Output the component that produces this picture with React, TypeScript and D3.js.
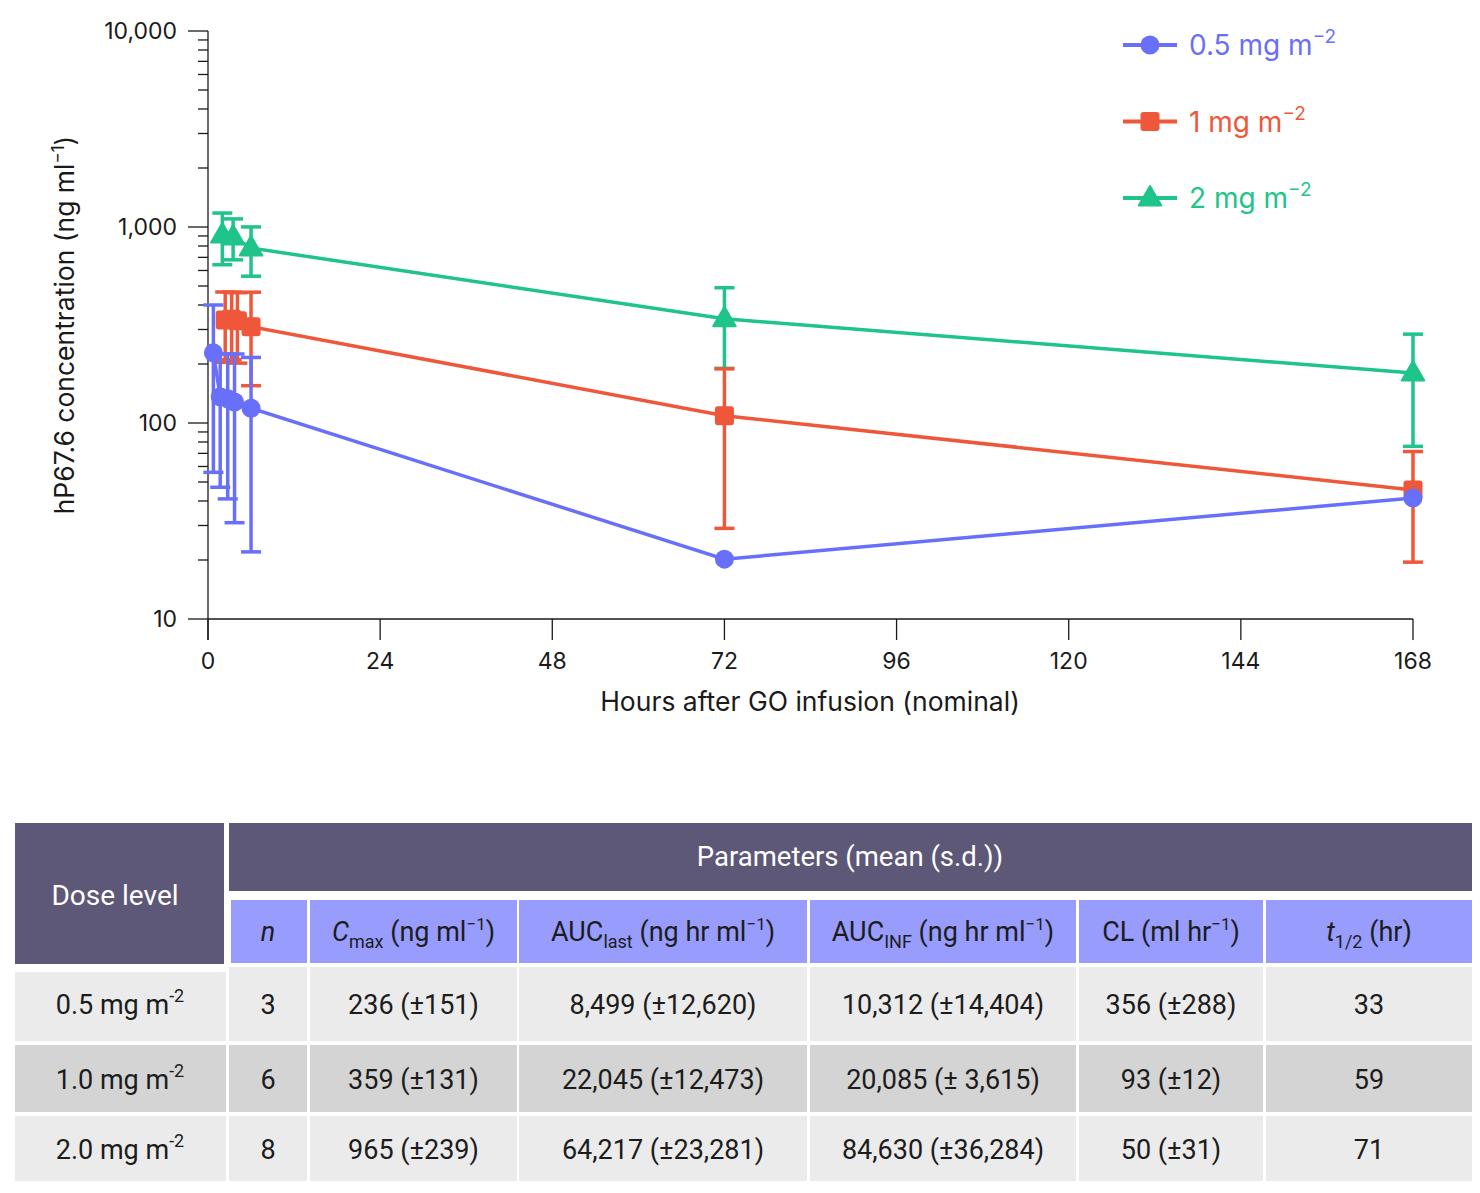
import * as d3 from 'd3';
import React from 'react';

// concentration data (ng/ml)
const blueHours = [0.75, 1.7, 2.75, 3.7, 6, 72, 168];
const blueMean = [228, 136, 133, 128, 119, 20.2, 41.4];
const blueSd = [172, 89, 92, 97, 97, 0, 0];

const redHours = [2.4, 3.3, 4.1, 6, 72, 168];
const redMean = [335, 338, 332, 310, 109, 45.5];
const redSd = [131, 128, 130, 155, 80, 26];

const greenHours = [2, 3.5, 6, 72, 168];
const greenMean = [910, 890, 781, 340, 180];
const greenSd = [268, 210, 220, 150, 104];

const xTicks = [0, 24, 48, 72, 96, 120, 144, 168];
const yTicks = [10, 100, 1000, 10000];

// table contents
const doseLabels = ['0.5', '1.0', '2.0'];
const nValues = ['3', '6', '8'];
const cmaxValues = ['236 (±151)', '359 (±131)', '965 (±239)'];
const aucLastValues = ['8,499 (±12,620)', '22,045 (±12,473)', '64,217 (±23,281)'];
const aucInfValues = ['10,312 (±14,404)', '20,085 (± 3,615)', '84,630 (±36,284)'];
const clValues = ['356 (±288)', '93 (±12)', '50 (±31)'];
const halfLifeValues = ['33', '59', '71'];

const BLUE = '#6870fa';
const RED = '#ef573b';
const GREEN = '#1ec489';

const series = [
  { key: 'green', label: '2', color: GREEN, shape: 'triangle', hours: greenHours, mean: greenMean, sd: greenSd },
  { key: 'red', label: '1', color: RED, shape: 'square', hours: redHours, mean: redMean, sd: redSd },
  { key: 'blue', label: '0.5', color: BLUE, shape: 'circle', hours: blueHours, mean: blueMean, sd: blueSd },
];

const legendOrder = ['blue', 'red', 'green'];

const plotFont = 'Inter, "Noto Sans", sans-serif';
const tableFont = 'Roboto, "Noto Sans", sans-serif';

const Marker: React.FC<{ shape: string; cx: number; cy: number; color: string }> = ({ shape, cx, cy, color }) => {
  if (shape === 'circle') return <circle cx={cx} cy={cy} r={9.5} fill={color} />;
  if (shape === 'square')
    return <rect x={cx - 9.5} y={cy - 9.5} width={19} height={19} rx={3} fill={color} />;
  const tri = d3.symbol().type(d3.symbolTriangle).size(220)();
  return <path d={tri || ''} transform={`translate(${cx},${cy + 1})`} fill={color} stroke={color} strokeWidth={2} strokeLinejoin="round" />;
};

const App: React.FC = () => {
  const x = d3.scaleLinear().domain([0, 168]).range([208, 1413]);
  const y = d3.scaleLog().domain([10, 10000]).range([619, 31]);
  const fmt = d3.format(',');

  const minor: number[] = [];
  [10, 100, 1000].forEach((d) => {
    for (let k = 2; k <= 9; k++) minor.push(d * k);
  });

  const line = d3
    .line<[number, number]>()
    .x((d) => x(d[0]))
    .y((d) => y(d[1]));

  // table geometry
  const cols = [
    [15, 226],
    [229, 307],
    [310, 517],
    [519, 807],
    [810, 1076],
    [1079, 1263],
    [1266, 1472],
  ];
  const rows = [
    [967, 1041],
    [1045, 1112],
    [1116, 1181],
  ];
  const rowFill = ['#ebebeb', '#d4d4d4', '#ebebeb'];
  const rowValues = [nValues, cmaxValues, aucLastValues, aucInfValues, clValues, halfLifeValues];
  const cx = (c: number[]) => (c[0] + c[1]) / 2;

  return (
    <svg width={1480} height={1193} style={{ position: 'absolute', left: 0, top: 0, background: '#fff' }}>
      {/* axes */}
      <g stroke="#1a1a1a" strokeWidth={1.3}>
        <line x1={208} x2={208} y1={31} y2={640} />
        <line x1={208} x2={1413} y1={619} y2={619} />
        {yTicks.map((t) => (
          <line key={`yt${t}`} x1={188} x2={208} y1={y(t)} y2={y(t)} />
        ))}
        {minor.map((t) => (
          <line key={`ym${t}`} x1={198} x2={208} y1={y(t)} y2={y(t)} />
        ))}
        {xTicks.map((t) => (
          <line key={`xt${t}`} x1={x(t)} x2={x(t)} y1={619} y2={640} />
        ))}
      </g>
      <g fontFamily={plotFont} fontSize={23} fill="#1a1a1a">
        {yTicks.map((t) => (
          <text key={`yl${t}`} x={177} y={y(t) + 8} textAnchor="end">
            {fmt(t)}
          </text>
        ))}
        {xTicks.map((t) => (
          <text key={`xl${t}`} x={x(t)} y={669} textAnchor="middle">
            {t}
          </text>
        ))}
      </g>
      <text x={810} y={711} textAnchor="middle" fontFamily={plotFont} fontSize={26.5} fill="#1a1a1a">
        Hours after GO infusion (nominal)
      </text>
      <text
        transform="translate(74,325) rotate(-90)"
        textAnchor="middle"
        fontFamily={plotFont}
        fontSize={26.5}
        fill="#1a1a1a"
      >
        hP67.6 concentration (ng ml
        <tspan dy={-10} fontSize={17}>
          −1
        </tspan>
        <tspan dy={10}>)</tspan>
      </text>

      {/* series */}
      {series.map((s) => {
        const pts: [number, number][] = s.hours.map((h, i) => [h, s.mean[i]]);
        return (
          <g key={s.key}>
            <path d={line(pts) || ''} fill="none" stroke={s.color} strokeWidth={3.5} />
            {s.hours.map((h, i) =>
              s.sd[i] > 0 ? (
                <g key={`e${i}`} stroke={s.color} strokeWidth={3.5}>
                  <line x1={x(h)} x2={x(h)} y1={y(s.mean[i] + s.sd[i])} y2={y(s.mean[i] - s.sd[i])} />
                  <line x1={x(h) - 10} x2={x(h) + 10} y1={y(s.mean[i] + s.sd[i])} y2={y(s.mean[i] + s.sd[i])} />
                  <line x1={x(h) - 10} x2={x(h) + 10} y1={y(s.mean[i] - s.sd[i])} y2={y(s.mean[i] - s.sd[i])} />
                </g>
              ) : null
            )}
            {s.hours.map((h, i) => (
              <Marker key={`m${i}`} shape={s.shape} cx={x(h)} cy={y(s.mean[i])} color={s.color} />
            ))}
          </g>
        );
      })}

      {/* legend */}
      {legendOrder.map((k, i) => {
        const s = series.find((d) => d.key === k)!;
        const ly = 45 + i * 76.5;
        return (
          <g key={`lg${k}`}>
            <line x1={1123} x2={1177} y1={ly} y2={ly} stroke={s.color} strokeWidth={4} />
            <Marker shape={s.shape} cx={1150} cy={ly} color={s.color} />
            <text x={1189} y={ly + 10} fontFamily={plotFont} fontSize={28} fill={s.color}>
              {s.label} mg m
              <tspan dy={-12} fontSize={19}>
                −2
              </tspan>
            </text>
          </g>
        );
      })}

      {/* table */}
      <rect x={15} y={823} width={209} height={141} fill="#5d5778" />
      <rect x={229} y={823} width={1243} height={68} fill="#5d5778" />
      <text x={115} y={905} textAnchor="middle" fontFamily={tableFont} fontSize={28} fill="#fff">
        Dose level
      </text>
      <text x={850} y={866} textAnchor="middle" fontFamily={tableFont} fontSize={27.5} fill="#fff">
        Parameters (mean (s.d.))
      </text>
      {cols.slice(1).map((c, i) => (
        <rect key={`sh${i}`} x={c[0] + (i === 0 ? 2 : 0)} y={900} width={c[1] - c[0] - (i === 0 ? 2 : 0)} height={63} fill="#979cfd" />
      ))}
      <g fontFamily={tableFont} fontSize={27} fill="#1c1c1c" textAnchor="middle">
        <text x={cx(cols[1])} y={941} fontStyle="italic">
          n
        </text>
        <text x={cx(cols[2])} y={941}>
          <tspan fontStyle="italic">C</tspan>
          <tspan dy={7} fontSize={18}>
            max
          </tspan>
          <tspan dy={-7}> (ng ml</tspan>
          <tspan dy={-11} fontSize={17}>
            −1
          </tspan>
          <tspan dy={11}>)</tspan>
        </text>
        <text x={cx(cols[3])} y={941}>
          AUC
          <tspan dy={7} fontSize={18}>
            last
          </tspan>
          <tspan dy={-7}> (ng hr ml</tspan>
          <tspan dy={-11} fontSize={17}>
            −1
          </tspan>
          <tspan dy={11}>)</tspan>
        </text>
        <text x={cx(cols[4])} y={941}>
          AUC
          <tspan dy={7} fontSize={18}>
            INF
          </tspan>
          <tspan dy={-7}> (ng hr ml</tspan>
          <tspan dy={-11} fontSize={17}>
            −1
          </tspan>
          <tspan dy={11}>)</tspan>
        </text>
        <text x={cx(cols[5])} y={941}>
          CL (ml hr
          <tspan dy={-11} fontSize={17}>
            −1
          </tspan>
          <tspan dy={11}>)</tspan>
        </text>
        <text x={cx(cols[6])} y={941}>
          <tspan fontStyle="italic">t</tspan>
          <tspan dy={7} fontSize={18}>
            1/2
          </tspan>
          <tspan dy={-7}> (hr)</tspan>
        </text>
      </g>
      {rows.map((r, ri) => (
        <g key={`row${ri}`}>
          {cols.map((c, ci) => (
            <rect key={`c${ci}`} x={c[0]} y={ri === 0 && ci === 0 ? r[0] + 5 : r[0]} width={c[1] - c[0]} height={r[1] - r[0] - (ri === 0 && ci === 0 ? 5 : 0)} fill={rowFill[ri]} />
          ))}
          <g fontFamily={tableFont} fontSize={27} fill="#1c1c1c" textAnchor="middle">
            <text x={120} y={(r[0] + r[1]) / 2 + 10}>
              {doseLabels[ri]} mg m
              <tspan dy={-12} fontSize={18}>
                -2
              </tspan>
            </text>
            {rowValues.map((vals, vi) => (
              <text key={`v${vi}`} x={cx(cols[vi + 1])} y={(r[0] + r[1]) / 2 + 10}>
                {vals[ri]}
              </text>
            ))}
          </g>
        </g>
      ))}
    </svg>
  );
};

export default App;
